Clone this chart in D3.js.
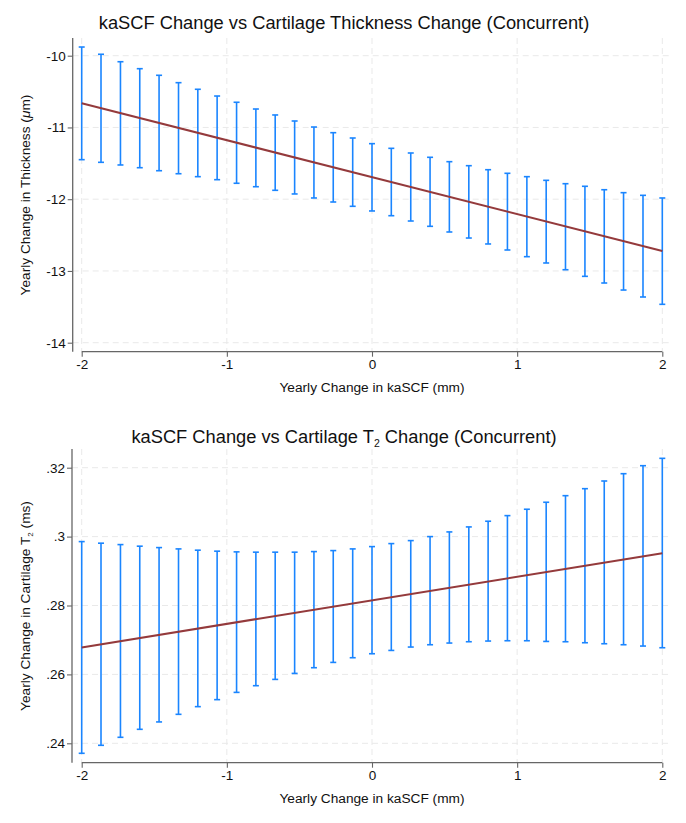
<!DOCTYPE html>
<html>
<head>
<meta charset="utf-8">
<script src="https://cdn.jsdelivr.net/npm/d3@7"></script>
<style>
    body { margin: 0; background: #fff; }
    text { font-family: "Liberation Sans", Arial, Helvetica, sans-serif; fill: #111; }
</style>
</head>
<body>
<script>
//kaSCF change vs cartilage change, two stacked margins plots

//x positions of the predictions (yearly change in kaSCF, mm)
var kascfX = [-2, -1.867, -1.733, -1.6, -1.467, -1.333, -1.2, -1.067, -0.933, -0.8,
    -0.667, -0.533, -0.4, -0.267, -0.133, 0, 0.133, 0.267, 0.4, 0.533,
    0.667, 0.8, 0.933, 1.067, 1.2, 1.333, 1.467, 1.6, 1.733, 1.867, 2];

//thickness panel: CI upper / lower and fitted line ends
var thickUpper = [-9.879, -9.980, -10.084, -10.181, -10.273, -10.376, -10.468, -10.562, -10.649,
    -10.743, -10.826, -10.910, -10.994, -11.073, -11.147, -11.226, -11.291, -11.356, -11.416,
    -11.477, -11.533, -11.589, -11.639, -11.686, -11.737, -11.784, -11.820, -11.868, -11.909, -11.946, -11.983];
var thickLower = [-11.449, -11.486, -11.523, -11.561, -11.603, -11.645, -11.686, -11.728, -11.778,
    -11.826, -11.876, -11.927, -11.983, -12.039, -12.099, -12.164, -12.230, -12.304, -12.378,
    -12.457, -12.541, -12.624, -12.708, -12.801, -12.889, -12.983, -13.075, -13.168, -13.266, -13.363, -13.465];
var thickFit = [-10.663, -12.722];

//T2 panel: CI upper / lower and fitted line ends
var t2Upper = [0.29855, 0.29809, 0.29768, 0.29722, 0.29681, 0.29643, 0.29606, 0.29577, 0.29557,
    0.29548, 0.29548, 0.29548, 0.29565, 0.29594, 0.29643, 0.29710, 0.29797, 0.29884, 0.30000,
    0.30136, 0.30281, 0.30446, 0.30609, 0.30794, 0.30997, 0.31188, 0.31391, 0.31614, 0.31826, 0.32058, 0.32272];
var t2Lower = [0.23710, 0.23942, 0.24174, 0.24406, 0.24620, 0.24841, 0.25064, 0.25267, 0.25478,
    0.25672, 0.25855, 0.26029, 0.26194, 0.26348, 0.26484, 0.26600, 0.26696, 0.26794, 0.26861,
    0.26910, 0.26948, 0.26968, 0.26977, 0.26977, 0.26957, 0.26948, 0.26919, 0.26890, 0.26861, 0.26823, 0.26774];
var t2Fit = [0.26783, 0.29519];

//ticks
var fitX = [-2, 2];
var xTicks = [-2, -1, 0, 1, 2];
var thickTicks = [-14, -13, -12, -11, -10];
var t2Ticks = [0.24, 0.26, 0.28, 0.30, 0.32];
var t2TickLabels = [".24", ".26", ".28", ".3", ".32"];

var width = 686,
    height = 823;

var svg = d3.select("body")
    .append("svg")
    .attr("width", width)
    .attr("height", height);

svg.append("rect")
    .attr("width", width)
    .attr("height", height)
    .attr("fill", "#fff");

var barColor = "#1a85ff",
    lineColor = "#943a3c",
    gridColor = "#e9e9e9",
    axisColor = "#666";

//draw one panel
function drawPanel(p){
    var g = svg.append("g");

    var x = d3.scaleLinear().domain([-2, 2]).range([81.7, 662.3]);
    var y = d3.scaleLinear().domain(p.yDomain).range(p.yRange);

    //grid lines
    g.selectAll(".hgrid")
        .data(p.yTicks)
        .enter()
        .append("line")
        .attr("x1", p.axisX).attr("x2", 672)
        .attr("y1", function(d){ return y(d); })
        .attr("y2", function(d){ return y(d); })
        .attr("stroke", gridColor)
        .attr("stroke-dasharray", "6,4");

    g.selectAll(".vgrid")
        .data(xTicks)
        .enter()
        .append("line")
        .attr("x1", function(d){ return x(d); })
        .attr("x2", function(d){ return x(d); })
        .attr("y1", p.plotTop).attr("y2", p.axisY)
        .attr("stroke", gridColor)
        .attr("stroke-dasharray", "6,4");

    //error bars
    var bars = g.selectAll(".bar")
        .data(kascfX)
        .enter()
        .append("g");

    bars.append("line")
        .attr("x1", function(d){ return x(d); })
        .attr("x2", function(d){ return x(d); })
        .attr("y1", function(d, i){ return y(p.upper[i]); })
        .attr("y2", function(d, i){ return y(p.lower[i]); })
        .attr("stroke", barColor)
        .attr("stroke-width", 1.6);

    [p.upper, p.lower].forEach(function(arr){
        bars.append("line")
            .attr("x1", function(d){ return x(d) - 3; })
            .attr("x2", function(d){ return x(d) + 3; })
            .attr("y1", function(d, i){ return y(arr[i]); })
            .attr("y2", function(d, i){ return y(arr[i]); })
            .attr("stroke", barColor)
            .attr("stroke-width", 1.6);
    });

    //fitted line
    var line = d3.line()
        .x(function(d){ return x(d); })
        .y(function(d, i){ return y(p.fit[i]); });

    g.append("path")
        .datum(fitX)
        .attr("d", line)
        .attr("fill", "none")
        .attr("stroke", lineColor)
        .attr("stroke-width", 2);

    //y axis
    var yAxis = d3.axisLeft(y)
        .tickValues(p.yTicks)
        .tickSize(5)
        .tickPadding(2)
        .tickFormat(function(d, i){ return p.tickLabels[i]; });

    var ya = g.append("g")
        .attr("transform", "translate(" + p.axisX + ",0)")
        .call(yAxis);
    ya.select(".domain").remove();
    ya.append("line")
        .attr("y1", p.plotTop).attr("y2", p.axisY)
        .attr("stroke", axisColor).attr("stroke-width", 1.3);

    //x axis
    var xAxis = d3.axisBottom(x)
        .tickValues(xTicks)
        .tickSize(5)
        .tickPadding(3)
        .tickFormat(String);

    var xa = g.append("g")
        .attr("transform", "translate(0," + p.axisY + ")")
        .call(xAxis);
    xa.select(".domain").remove();
    xa.append("line")
        .attr("x1", x(-2)).attr("x2", x(2))
        .attr("stroke", axisColor).attr("stroke-width", 1.3);

    g.selectAll(".tick line").attr("stroke", axisColor).attr("stroke-width", 1.1);
    g.selectAll(".tick text")
        .style("font-size", "13.5px")
        .style("font-family", "'Liberation Sans', Arial, sans-serif")
        .attr("fill", "#111");

    //titles
    p.title(g.append("text")
        .attr("x", 344)
        .attr("y", p.titleY)
        .attr("text-anchor", "middle")
        .style("font-size", "18.3px"));

    g.append("text")
        .attr("x", 372)
        .attr("y", p.axisY + 40)
        .attr("text-anchor", "middle")
        .style("font-size", "13.7px")
        .text("Yearly Change in kaSCF (mm)");

    p.ylabel(g.append("text")
        .attr("transform", "translate(29.5," + p.ylabelY + ") rotate(-90)")
        .attr("text-anchor", "middle")
        .style("font-size", "13.7px"));
}

//top panel: thickness
drawPanel({
    yDomain: [-14, -10],
    yRange: [342.7, 55.7],
    yTicks: thickTicks,
    tickLabels: thickTicks.map(String),
    upper: thickUpper,
    lower: thickLower,
    fit: thickFit,
    axisX: 72.7,
    axisY: 351.7,
    plotTop: 38,
    titleY: 29,
    ylabelY: 195,
    title: function(t){
        t.text("kaSCF Change vs Cartilage Thickness Change (Concurrent)");
    },
    ylabel: function(t){
        t.append("tspan").text("Yearly Change in Thickness (");
        t.append("tspan").style("font-style", "italic").text("\u03bc");
        t.append("tspan").text("m)");
    }
});

//bottom panel: T2
drawPanel({
    yDomain: [0.24, 0.32],
    yRange: [743.3, 467.7],
    yTicks: t2Ticks,
    tickLabels: t2TickLabels,
    upper: t2Upper,
    lower: t2Lower,
    fit: t2Fit,
    axisX: 72,
    axisY: 762.7,
    plotTop: 449,
    titleY: 443,
    ylabelY: 606,
    title: function(t){
        t.append("tspan").text("kaSCF Change vs Cartilage T");
        t.append("tspan").attr("dy", 4).style("font-size", "10.5px").text("2");
        t.append("tspan").attr("dy", -4).text(" Change (Concurrent)");
    },
    ylabel: function(t){
        t.append("tspan").text("Yearly Change in Cartilage T");
        t.append("tspan").attr("dy", 3).style("font-size", "8px").text("2");
        t.append("tspan").attr("dy", -3).text(" (ms)");
    }
});
</script>
</body>
</html>
